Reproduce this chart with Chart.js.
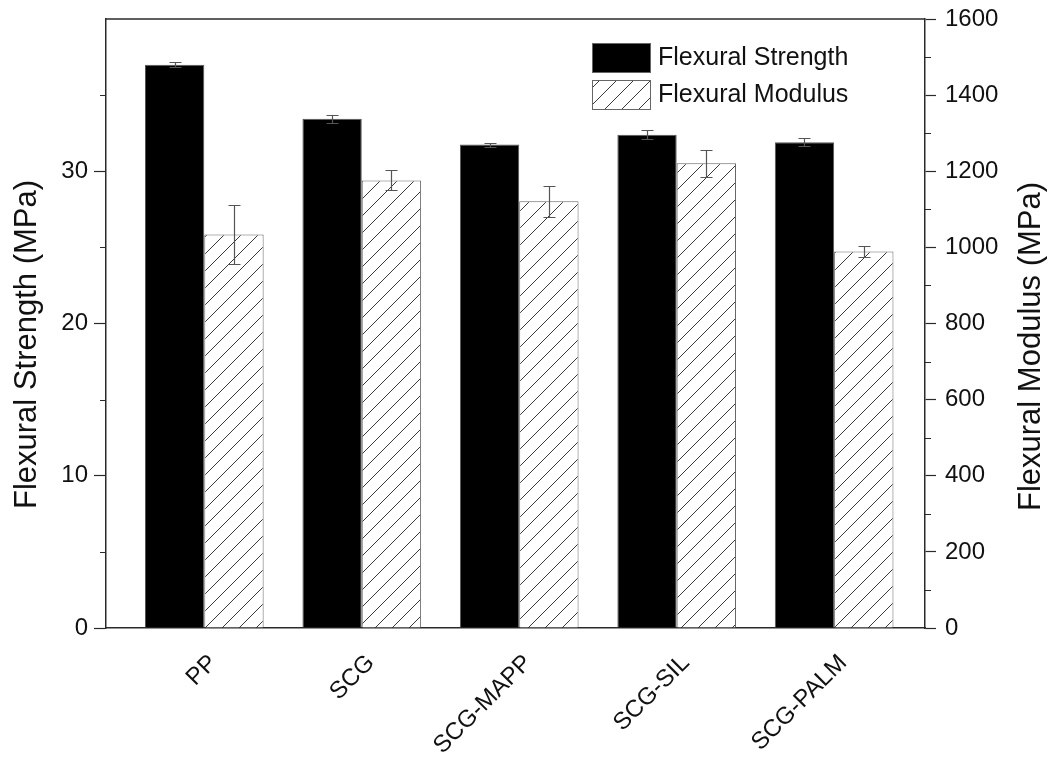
<!DOCTYPE html>
<html><head><meta charset="utf-8">
<script src="https://cdn.jsdelivr.net/npm/chart.js@4.4.1/dist/chart.umd.min.js"></script>
<style>html,body{margin:0;padding:0;background:#fff;}</style>
</head><body>
<canvas id="c" width="1052" height="764"></canvas>
<script>
const categories = ['PP', 'SCG', 'SCG-MAPP', 'SCG-SIL', 'SCG-PALM'];
const strength = [37.0, 33.45, 31.75, 32.4, 31.9];
const strengthErr = [0.15, 0.25, 0.13, 0.28, 0.27];
const modulus = [1034, 1176, 1121, 1221, 989];
const modulusErr = [78, 26, 41, 35, 15];
const strengthTicks = [0, 10, 20, 30];
const strengthMinor = [5, 15, 25, 35];
const modulusTicks = [0, 200, 400, 600, 800, 1000, 1200, 1400, 1600];
const modulusMinor = [100, 300, 500, 700, 900, 1100, 1300, 1500];
const leftTitle = 'Flexural Strength (MPa)';
const rightTitle = 'Flexural Modulus (MPa)';

const FONT = "'Liberation Sans', Arial, sans-serif";
const AXIS = '#2a2a2a';

function hatchPattern() {
  const s = 17;
  const c = document.createElement('canvas');
  c.width = s; c.height = s;
  const g = c.getContext('2d');
  g.fillStyle = '#fff'; g.fillRect(0, 0, s, s);
  g.strokeStyle = '#3a3a3a'; g.lineWidth = 1;
  g.beginPath();
  g.moveTo(-2, s + 2); g.lineTo(s + 2, -2);
  g.moveTo(-2, 2); g.lineTo(2, -2);
  g.moveTo(s - 2, s + 2); g.lineTo(s + 2, s - 2);
  g.stroke();
  return g.createPattern(c, 'repeat');
}
const hatch = hatchPattern();

const errorBars = {
  id: 'errorBars',
  afterDatasetsDraw(chart) {
    const ctx = chart.ctx;
    ctx.save();
    ctx.strokeStyle = '#555';
    ctx.lineWidth = 1.2;
    chart.data.datasets.forEach((ds, di) => {
      const meta = chart.getDatasetMeta(di);
      const ys = chart.scales[ds.yAxisID];
      meta.data.forEach((bar, i) => {
        const v = ds.data[i].y, e = ds.errors[i];
        const yt = Math.round(ys.getPixelForValue(v + e)) + 0.5;
        const yb = Math.round(ys.getPixelForValue(v - e)) + 0.5;
        const x = Math.round(bar.x) + 0.5;
        const cw = 6;
        ctx.beginPath();
        ctx.moveTo(x, yt); ctx.lineTo(x, yb);
        ctx.moveTo(x - cw, yt); ctx.lineTo(x + cw, yt);
        ctx.moveTo(x - cw, yb); ctx.lineTo(x + cw, yb);
        ctx.stroke();
      });
    });
    ctx.restore();
  }
};

function drawVTitle(ctx, text, x, y) {
  ctx.save();
  ctx.fillStyle = '#111';
  ctx.font = '31px ' + FONT;
  ctx.textAlign = 'center';
  ctx.textBaseline = 'middle';
  ctx.translate(x, y);
  ctx.rotate(-Math.PI / 2);
  ctx.fillText(text, 0, 0);
  ctx.restore();
}

const decorations = {
  id: 'decorations',
  afterDraw(chart) {
    const ctx = chart.ctx;
    const a = chart.chartArea;
    const y = chart.scales.y, y2 = chart.scales.y2;
    ctx.save();
    ctx.strokeStyle = AXIS;
    ctx.lineWidth = 1.5;
    ctx.beginPath();
    ctx.moveTo(a.left, a.top); ctx.lineTo(a.right, a.top);
    ctx.stroke();
    ctx.lineWidth = 1.2;
    ctx.beginPath();
    strengthMinor.forEach(v => {
      const p = Math.round(y.getPixelForValue(v)) + 0.5;
      ctx.moveTo(a.left - 6, p); ctx.lineTo(a.left, p);
    });
    modulusMinor.forEach(v => {
      const p = Math.round(y2.getPixelForValue(v)) + 0.5;
      ctx.moveTo(a.right, p); ctx.lineTo(a.right + 6, p);
    });
    ctx.stroke();
    ctx.restore();

    const midY = (a.top + a.bottom) / 2 + 21;
    drawVTitle(ctx, leftTitle, 27, midY);
    drawVTitle(ctx, rightTitle, 1031, midY + 2);

    ctx.save();
    const lx = a.right - 333, ly = a.top + 24;
    chart.data.datasets.forEach((ds, i) => {
      const by = ly + i * 37;
      ctx.fillStyle = ds.backgroundColor;
      ctx.fillRect(lx, by, 58, 29);
      ctx.strokeStyle = '#666';
      ctx.lineWidth = 1;
      ctx.strokeRect(lx + 0.5, by + 0.5, 58, 29);
      ctx.fillStyle = '#111';
      ctx.font = '25px ' + FONT;
      ctx.textAlign = 'left';
      ctx.textBaseline = 'middle';
      ctx.fillText(ds.label, lx + 66, by + 15);
    });
    ctx.restore();
  }
};

new Chart(document.getElementById('c'), {
  type: 'bar',
  data: {
    datasets: [
      {
        label: 'Flexural Strength',
        data: categories.map((c, i) => ({ x: i + 1, y: strength[i] })),
        errors: strengthErr,
        yAxisID: 'y',
        backgroundColor: '#000',
        borderColor: '#555',
        borderWidth: 1
      },
      {
        label: 'Flexural Modulus',
        data: categories.map((c, i) => ({ x: i + 1, y: modulus[i] })),
        errors: modulusErr,
        yAxisID: 'y2',
        backgroundColor: hatch,
        borderColor: '#666',
        borderWidth: 1
      }
    ]
  },
  options: {
    responsive: false,
    animation: false,
    devicePixelRatio: 1,
    layout: { padding: { top: 19, left: 0, right: 0, bottom: 0 } },
    datasets: { bar: { categoryPercentage: 0.7535, barPercentage: 1 } },
    plugins: { legend: { display: false }, tooltip: { enabled: false } },
    scales: {
      x: {
        type: 'linear',
        offset: false,
        min: 0.3757,
        max: 5.577,
        afterBuildTicks: s => { s.ticks = categories.map((c, i) => ({ value: i + 1 })); },
        afterFit: s => { s.height = 136; s.paddingLeft = 0; s.paddingRight = 0; },
        grid: { display: false, drawTicks: false },
        border: { display: true, color: AXIS, width: 1.5 },
        ticks: {
          autoSkip: false,
          minRotation: 45,
          maxRotation: 45,
          padding: 21,
          labelOffset: 9,
          color: '#111',
          font: { family: FONT, size: 24 },
          callback: v => categories[v - 1]
        }
      },
      y: {
        position: 'left',
        min: 0,
        max: 40,
        afterBuildTicks: s => { s.ticks = strengthTicks.map(v => ({ value: v })); },
        afterFit: s => { s.width = 106; s.paddingTop = 0; s.paddingBottom = 0; },
        grid: { display: true, drawOnChartArea: false, drawTicks: true, tickLength: 12, tickColor: AXIS, tickWidth: 1.2 },
        border: { display: true, color: AXIS, width: 1.5 },
        ticks: { padding: 6, color: '#111', font: { family: FONT, size: 24 }, callback: v => String(v) }
      },
      y2: {
        position: 'right',
        min: 0,
        max: 1600,
        afterBuildTicks: s => { s.ticks = modulusTicks.map(v => ({ value: v })); },
        afterFit: s => { s.width = 127; s.paddingTop = 0; s.paddingBottom = 0; },
        grid: { display: true, drawOnChartArea: false, drawTicks: true, tickLength: 11, tickColor: AXIS, tickWidth: 1.2 },
        border: { display: true, color: AXIS, width: 1.5 },
        ticks: { padding: 9, color: '#111', font: { family: FONT, size: 24 }, callback: v => String(v) }
      }
    }
  },
  plugins: [errorBars, decorations]
});
</script>
</body></html>
